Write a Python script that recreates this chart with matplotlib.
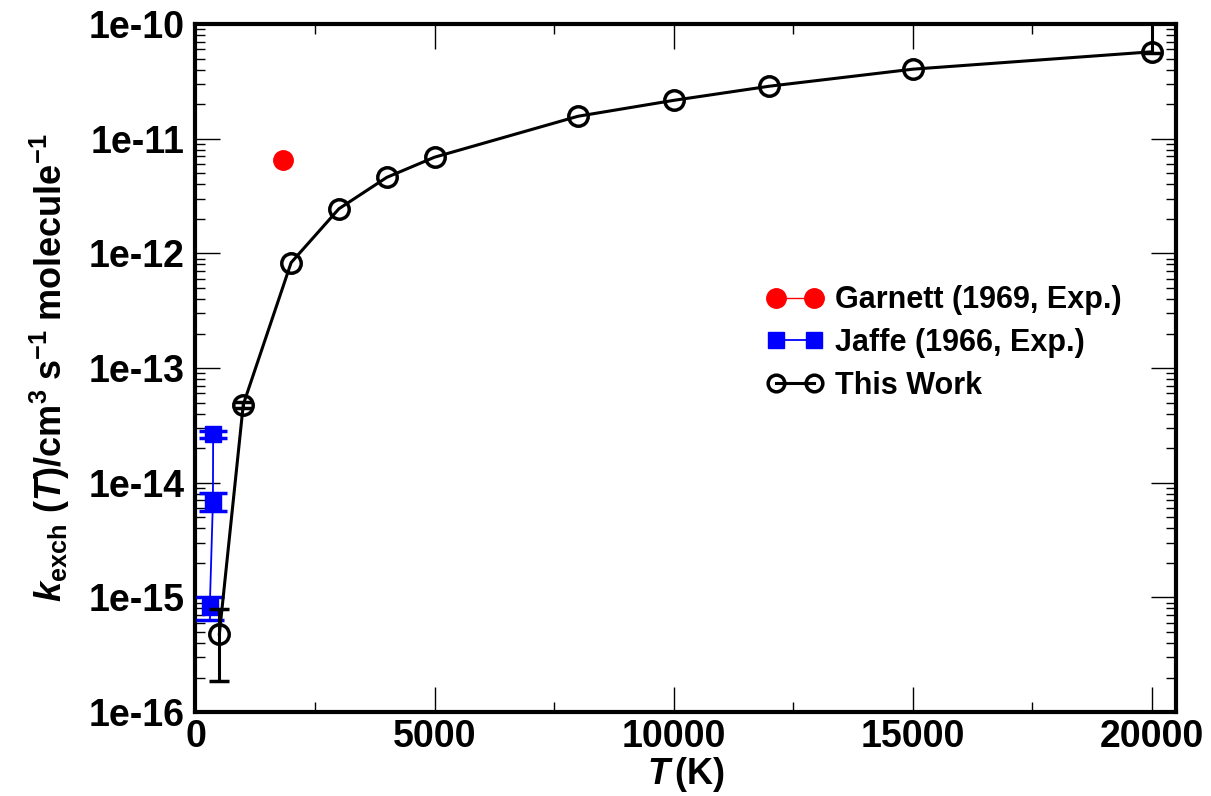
import math
import matplotlib
matplotlib.use("Agg")
import matplotlib.pyplot as plt
from matplotlib.ticker import (FixedLocator, LogLocator, MultipleLocator,
                               NullFormatter, FuncFormatter)

plt.rcParams["font.family"] = "Liberation Sans"
plt.rcParams["font.weight"] = "bold"
plt.rcParams["axes.labelweight"] = "bold"
plt.rcParams["mathtext.fontset"] = "custom"
plt.rcParams["mathtext.rm"] = "Liberation Sans:bold"
plt.rcParams["mathtext.it"] = "Liberation Sans:bold:italic"
plt.rcParams["mathtext.bf"] = "Liberation Sans:bold"

# Rate coefficients (cm^3 s^-1 molecule^-1) versus temperature (K)
work_T = [500, 1000, 2000, 3000, 4000, 5000, 8000, 10000, 12000, 15000, 20000]
work_k = [4.8e-16, 4.8e-14, 8.3e-13, 2.45e-12, 4.6e-12, 6.9e-12,
          1.57e-11, 2.16e-11, 2.87e-11, 4.04e-11, 5.73e-11]

# Uncertainties on selected computed points
work_err_T = [500, 1000, 20000]
work_err_k = [4.8e-16, 4.8e-14, 5.73e-11]
work_err_lo = [2.95e-16, 0.3e-14, 0.1e-11]
work_err_hi = [3.1e-16, 0.3e-14, 7.0e-11]

jaffe_T = [370, 365, 300]
jaffe_k = [2.64e-14, 6.84e-15, 8.3e-16]
jaffe_lo = [0.19e-14, 1.14e-15, 2.0e-16]
jaffe_hi = [0.16e-14, 1.26e-15, 1.7e-16]

garnett_T = [1830]
garnett_k = [6.46e-12]

y_ticks = [1e-16, 1e-15, 1e-14, 1e-13, 1e-12, 1e-11, 1e-10]

fig = plt.figure(figsize=(12.11, 7.96), dpi=100)
ax = fig.add_axes([0.1614, 0.1055, 0.8096, 0.8643])

ax.errorbar(jaffe_T, jaffe_k, yerr=[jaffe_lo, jaffe_hi], color="#0000ff",
            lw=1.3, marker="s", ms=12, mec="#0000ff", mfc="#0000ff",
            capsize=10.4, capthick=2.5, elinewidth=1.3, zorder=3)

ax.errorbar(work_err_T, work_err_k, yerr=[work_err_lo, work_err_hi], fmt="none",
            ecolor="black", elinewidth=2.2, capsize=7, capthick=2.5, zorder=4)
ax.plot(work_T, work_k, color="black", lw=2.2, marker="o", ms=14,
        mfc="none", mec="black", mew=2.5, zorder=5)

ax.plot(garnett_T, garnett_k, color="red", lw=1, marker="o", ms=14,
        mfc="red", mec="red", zorder=6)

ax.set_yscale("log")
ax.set_xlim(0, 20500)
ax.set_ylim(1e-16, 1e-10)

ax.xaxis.set_major_locator(MultipleLocator(5000))
ax.xaxis.set_minor_locator(MultipleLocator(2500))
ax.yaxis.set_major_locator(FixedLocator(y_ticks))
ax.yaxis.set_minor_locator(LogLocator(base=10, subs=range(2, 10), numticks=20))
ax.yaxis.set_minor_formatter(NullFormatter())
ax.yaxis.set_major_formatter(FuncFormatter(lambda v, p: "1e%d" % round(math.log10(v))))

ax.tick_params(which="both", direction="in", top=True, right=True,
               labelsize=27, width=1.0)
ax.tick_params(which="major", length=18)
ax.tick_params(axis="x", which="major", pad=5)
ax.tick_params(axis="y", which="major", pad=8)
ax.tick_params(which="minor", length=7)
for lbl in ax.get_xticklabels() + ax.get_yticklabels():
    lbl.set_fontweight("bold")
for s in ax.spines.values():
    s.set_linewidth(3)

ax.set_xlabel(r"$T\,$(K)", fontsize=26, fontweight="bold", labelpad=0)
ax.set_ylabel(r"$k_{\mathrm{exch}}\ (T)/\mathrm{cm}^{3}\;\mathrm{s}^{-1}\;\mathrm{molecule}^{-1}$",
              fontsize=26, labelpad=12)

h_g, = ax.plot([], [], color="red", lw=1, marker="o", ms=14, mfc="red", mec="red")
h_j, = ax.plot([], [], color="#0000ff", lw=1.3, marker="s", ms=12, mfc="#0000ff", mec="#0000ff")
h_w, = ax.plot([], [], color="black", lw=2.2, marker="o", ms=12, mfc="none", mec="black", mew=2.5)
leg = ax.legend([h_g, h_j, h_w],
                ["Garnett (1969, Exp.)", "Jaffe (1966, Exp.)", "This Work"],
                loc="upper left", bbox_to_anchor=(0.570, 0.638), frameon=False,
                fontsize=22, numpoints=2, handlelength=1.87, handletextpad=0.36,
                labelspacing=0.42, borderaxespad=0)

fig.savefig("out.png", dpi=100)
